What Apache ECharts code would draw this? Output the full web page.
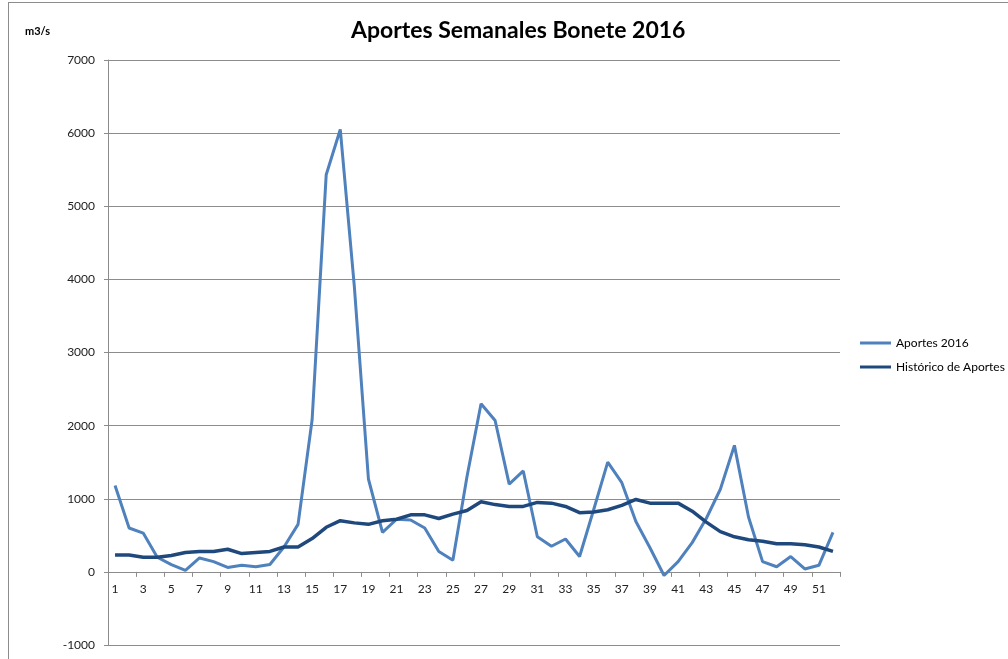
<!DOCTYPE html>
<html>
<head>
<meta charset="utf-8">
<script src="https://cdn.jsdelivr.net/npm/echarts@6/dist/echarts.min.js"></script>
<style>
	html, body { margin:0; padding:0; background:#fff; overflow:hidden; }
	#frame { position:absolute; left:8px; top:2px; width:1100px; height:700px; border:1px solid #8c8c8c; }
	#chart { position:absolute; left:0; top:0; width:1008px; height:659px; }
</style>
</head>
<body>
<div id="frame"></div>
<div id="chart"></div>
<script>
// semanas 1..52
const semanas = [];
for(let i = 1; i <= 52; i++){
	semanas.push(String(i));
}

const aportes_2016 = [
	1180, 600, 530, 200, 100, 20, 190, 140, 60, 90,
	70, 100, 340, 650, 2080, 5430, 6050, 3900, 1270, 540,
	720, 710, 600, 280, 160, 1300, 2300, 2070, 1200, 1380,
	480, 350, 450, 210, 850, 1500, 1220, 690, 330, -50,
	140, 400, 730, 1130, 1730, 750, 140, 70, 210, 40,
	90, 540
];

const historico = [
	230, 230, 200, 200, 225, 265, 280, 280, 310, 250,
	265, 280, 340, 340, 455, 610, 700, 670, 650, 700,
	720, 780, 780, 730, 790, 840, 960, 920, 895, 895,
	950, 940, 895, 810, 820, 850, 910, 990, 940, 940,
	940, 830, 680, 550, 480, 440, 420, 385, 385, 370,
	340, 280
];

const y_ticks = { min: -1000, max: 7000, interval: 1000 };

const FONT = 'Lato';
const GRID = { left: 108, right: 168, top: 60, bottom: 14 };
const CHART_H = 659;

// eje x sobre el cero: desplazar desde el borde inferior del grid
let grid_h = CHART_H - GRID.top - GRID.bottom;
let zero_offset = -grid_h * (0 - y_ticks.min) / (y_ticks.max - y_ticks.min);

let myChart = echarts.init(document.getElementById('chart'), null, { renderer: 'canvas' });

let option = {
	animation: false,
	title: [
		{
			text: 'Aportes Semanales Bonete 2016',
			left: 346,
			top: 14,
			textStyle: { fontFamily: FONT, fontSize: 23, fontWeight: 'bold', color: '#000' }
		},
		{
			text: 'm3/s',
			left: 20,
			top: 21,
			textStyle: { fontFamily: FONT, fontSize: 11, fontWeight: 'bold', color: '#000' }
		}
	],
	legend: {
		orient: 'vertical',
		left: 855,
		top: 332,
		itemWidth: 31,
		itemHeight: 3,
		itemGap: 12,
		icon: 'rect',
		textStyle: { fontFamily: FONT, fontSize: 12, color: '#000' },
		data: ['Aportes 2016', 'Histórico de Aportes']
	},
	grid: {
		left: GRID.left,
		right: GRID.right,
		top: GRID.top,
		bottom: GRID.bottom,
		outerBoundsMode: 'none',
		containLabel: false
	},
	xAxis: {
		type: 'category',
		boundaryGap: true,
		data: semanas,
		position: 'bottom',
		offset: zero_offset,
		axisLine: { onZero: false, lineStyle: { color: '#8c8c8c', width: 1 } },
		axisTick: { show: true, interval: 1, length: 5, lineStyle: { color: '#8c8c8c' } },
		axisLabel: { interval: 1, margin: 11, fontFamily: FONT, fontSize: 12, color: '#222' },
		splitLine: { show: false }
	},
	yAxis: {
		type: 'value',
		min: y_ticks.min,
		max: y_ticks.max,
		interval: y_ticks.interval,
		axisLine: { show: true, lineStyle: { color: '#8c8c8c', width: 1 } },
		axisTick: { show: true, length: 4, lineStyle: { color: '#8c8c8c' } },
		axisLabel: { margin: 13, fontFamily: FONT, fontSize: 12, color: '#222', formatter: v => String(v) },
		splitLine: { show: true, lineStyle: { color: '#8c8c8c', width: 1 } }
	},
	series: [
		{
			name: 'Aportes 2016',
			type: 'line',
			data: aportes_2016,
			showSymbol: false,
			symbol: 'none',
			color: '#4f81bd',
			lineStyle: { color: '#4f81bd', width: 3 }
		},
		{
			name: 'Histórico de Aportes',
			type: 'line',
			data: historico,
			showSymbol: false,
			symbol: 'none',
			color: '#1f497d',
			lineStyle: { color: '#1f497d', width: 3.5 }
		}
	]
};
myChart.setOption(option);
</script>
</body>
</html>
